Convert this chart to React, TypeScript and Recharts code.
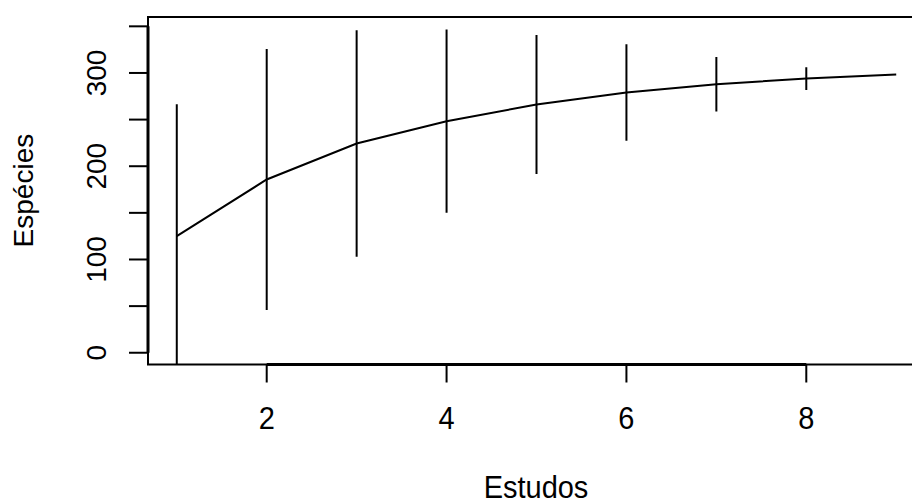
import React from "react";
import {
  ComposedChart,
  Line,
  XAxis,
  YAxis,
  ErrorBar,
  ReferenceArea,
  ReferenceLine,
} from "recharts";

const studies = [1, 2, 3, 4, 5, 6, 7, 8, 9];
const richness = [125, 185.8, 224.4, 248.3, 266.1, 279, 287.9, 294, 298.3];
const sdValues = [141.4, 139.9, 121.5, 98.3, 74.5, 51.8, 29.3, 12.2, 0];
const xTicks = [2, 4, 6, 8];
const yTicks = [0, 50, 100, 150, 200, 250, 300, 350];
const yLabelTicks = [0, 100, 200, 300];

const data = studies.map((s, i) => ({ x: s, mean: richness[i], sd: sdValues[i] }));

const X_DOMAIN: [number, number] = [0.68, 9.32];
const Y_DOMAIN: [number, number] = [-12.6, 360];
const FONT = "'Liberation Sans', Arial, Helvetica, sans-serif";
const FS = 28;
const FSH = 29;
const STRETCH = 1.1;

const PLOT = { left: 148, top: 17, right: 15, bottom: 139.5 };
const CHART_W = 940;
const CHART_H = 504;

const YTick = (props: any) => {
  const { y, payload } = props;
  if (!yLabelTicks.includes(payload.value)) return null;
  const bx = 106;
  return (
    <text
      x={bx}
      y={y}
      transform={`rotate(-90 ${bx} ${y})`}
      textAnchor="middle"
      fontFamily={FONT}
      fontSize={FS}
      fill="#000"
    >
      {payload.value}
    </text>
  );
};

const XTick = (props: any) => {
  const { x, payload } = props;
  return (
    <g transform={`translate(${x} 429) scale(1 ${STRETCH})`}>
      <text x={0} y={0} textAnchor="middle" fontFamily={FONT} fontSize={FSH} fill="#000">
        {payload.value}
      </text>
    </g>
  );
};

export default function App() {
  const plotW = CHART_W - PLOT.left - PLOT.right;
  const plotH = CHART_H - PLOT.top - PLOT.bottom;
  return (
    <div
      style={{
        position: "fixed",
        left: 0,
        top: 0,
        width: 912,
        height: 504,
        overflow: "hidden",
        background: "#fff",
      }}
    >
      <ComposedChart
        width={CHART_W}
        height={CHART_H}
        data={data}
        margin={{ top: PLOT.top, right: PLOT.right, bottom: 0, left: 0 }}
      >
        <defs>
          <clipPath id="plotClip">
            <rect x={PLOT.left} y={PLOT.top} width={plotW} height={plotH} />
          </clipPath>
        </defs>
        <XAxis
          type="number"
          dataKey="x"
          domain={X_DOMAIN}
          ticks={xTicks}
          allowDataOverflow
          axisLine={false}
          tickSize={18}
          tickLine={{ stroke: "#000", strokeWidth: 2 }}
          tick={<XTick />}
          height={PLOT.bottom}
          interval={0}
        />
        <YAxis
          type="number"
          domain={Y_DOMAIN}
          ticks={yTicks}
          allowDataOverflow
          axisLine={false}
          tickSize={19}
          tickLine={{ stroke: "#000", strokeWidth: 2 }}
          tick={<YTick />}
          width={PLOT.left}
          interval={0}
        />
        <ReferenceArea
          x1={X_DOMAIN[0]}
          x2={X_DOMAIN[1]}
          y1={Y_DOMAIN[0]}
          y2={Y_DOMAIN[1]}
          fill="none"
          stroke="#000"
          strokeWidth={2}
          ifOverflow="visible"
        />
        <ReferenceLine
          segment={[
            { x: 2, y: Y_DOMAIN[0] },
            { x: 8, y: Y_DOMAIN[0] },
          ]}
          stroke="#000"
          strokeWidth={3}
          ifOverflow="visible"
        />
        <ReferenceLine
          segment={[
            { x: X_DOMAIN[0], y: 0 },
            { x: X_DOMAIN[0], y: 350 },
          ]}
          stroke="#000"
          strokeWidth={3}
          ifOverflow="visible"
        />
        <Line
          dataKey="mean"
          stroke="#000"
          strokeWidth={2}
          dot={false}
          isAnimationActive={false}
        >
          <ErrorBar
            dataKey="sd"
            width={0}
            stroke="#000"
            strokeWidth={2}
            direction="y"
            isAnimationActive={false}
            clipPath="url(#plotClip)"
          />
        </Line>
        <text
          x={33}
          y={190.6}
          transform="rotate(-90 33 190.6)"
          textAnchor="middle"
          fontFamily={FONT}
          fontSize={FS}
          fill="#000"
        >
          Espécies
        </text>
        <g transform={`translate(536 498) scale(1 ${STRETCH})`}>
          <text x={0} y={0} textAnchor="middle" fontFamily={FONT} fontSize={FSH} fill="#000">
            Estudos
          </text>
        </g>
      </ComposedChart>
    </div>
  );
}
